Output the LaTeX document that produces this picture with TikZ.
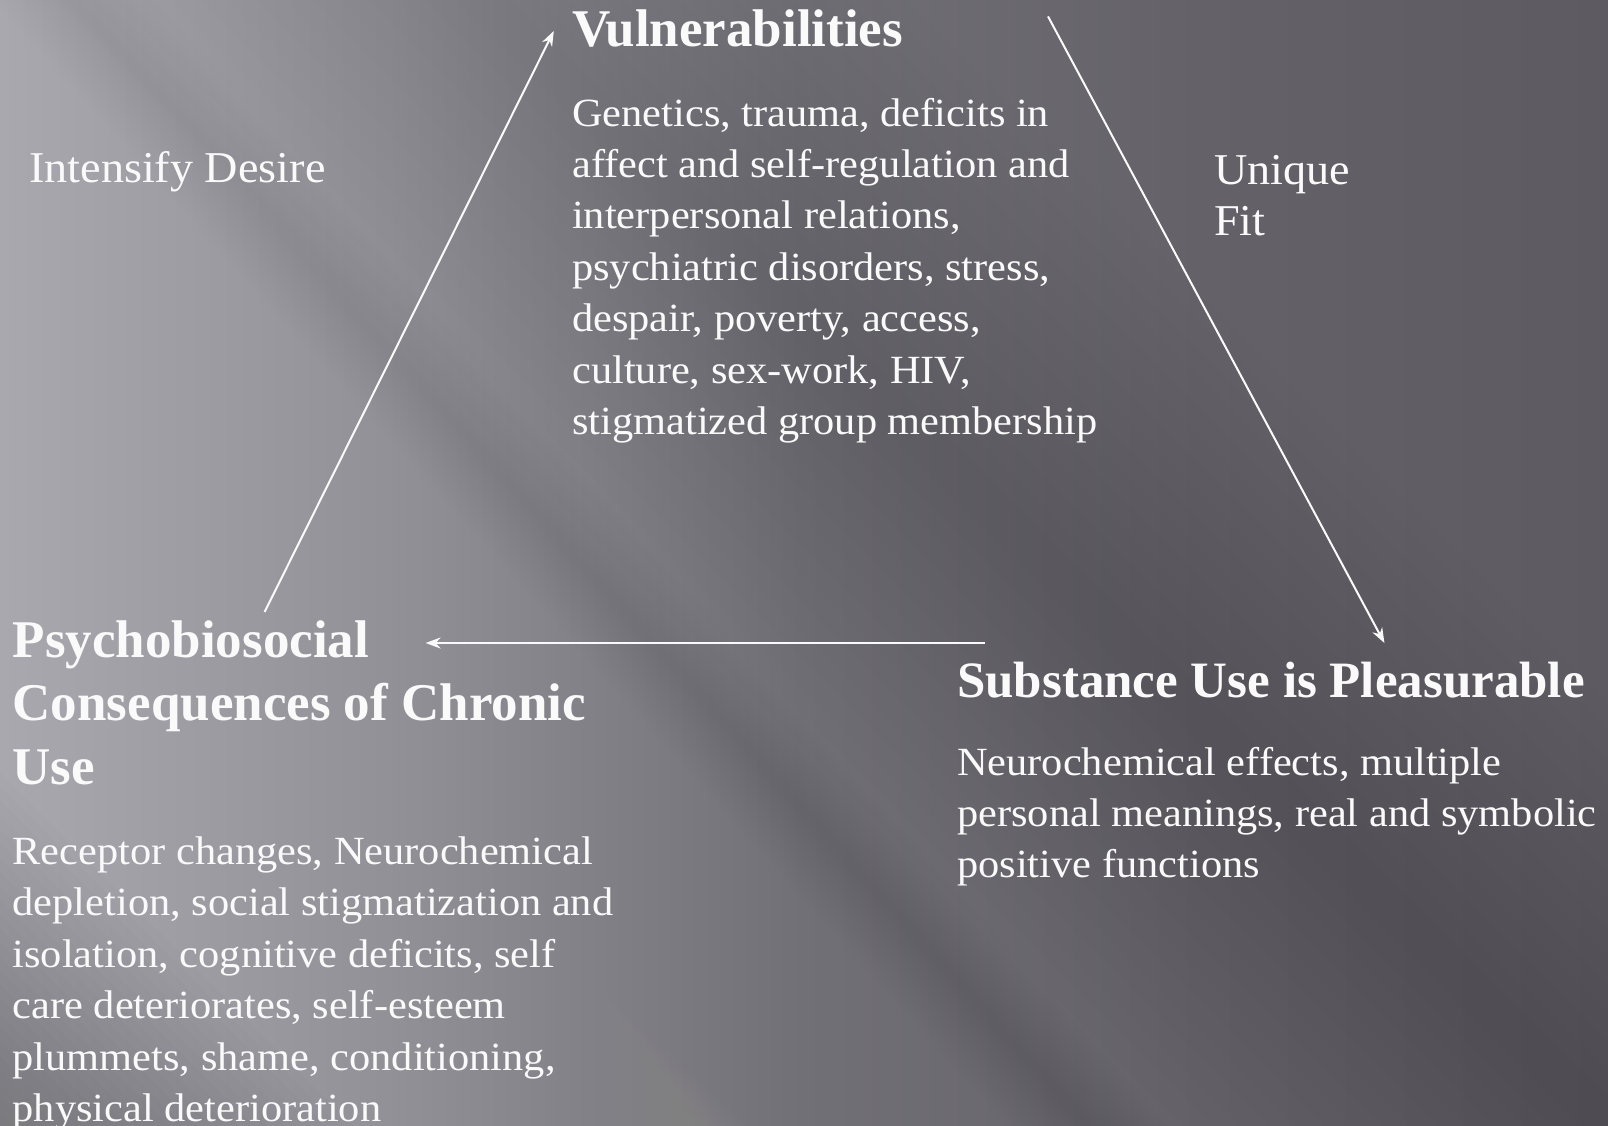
\documentclass[tikz,border=0pt]{standalone}
\usepackage{fontspec}
\setmainfont{Liberation Serif}
\newfontfamily\bodyfont[FakeStretch=1.06]{Liberation Serif}
\newfontfamily\labfont[FakeStretch=1.05]{Liberation Serif}
\usetikzlibrary{arrows.meta,calc}
\definecolor{bgA}{RGB}{170,168,175}
\definecolor{bgB}{RGB}{146,144,151}
\definecolor{bgC}{RGB}{114,112,119}
\definecolor{bgD}{RGB}{100,98,104}
\definecolor{bgE}{RGB}{93,91,97}
\definecolor{txt}{RGB}{250,250,250}
\tikzset{
  headtext/.style={anchor=base west, inner sep=0pt, align=left, text=txt, font=\bfseries\fontsize{53}{63.6}\selectfont},
  bodytext/.style={anchor=base west, inner sep=0pt, align=left, text=txt, font=\bodyfont\fontsize{40}{51.45}\selectfont},
  labeltext/.style={anchor=base west, inner sep=0pt, align=left, text=txt, font=\labfont\fontsize{44}{51}\selectfont},
  conn/.style={draw=txt, line width=2pt, -{Stealth[length=15pt,width=11pt]}},
}
\begin{document}
\begin{tikzpicture}[x=1pt,y=-1pt]
\useasboundingbox (0,0) rectangle (1608,1126);
% background: horizontal base gradient
\shade[left color=bgA, right color=bgB] (0,0) rectangle (401,1126);
\shade[left color=bgB, right color=bgC] (400,0) rectangle (801,1126);
\shade[left color=bgC, right color=bgD] (800,0) rectangle (1201,1126);
\shade[left color=bgD, right color=bgE] (1200,0) rectangle (1608,1126);
% soft diagonal light and dark streaks
\begin{scope}
\clip (0,0) rectangle (1608,1126);
\begin{scope}[shift={(150,330)}, rotate=-48]
\foreach \w in {10,20,...,250} \fill[white, opacity=0.003] (-2000,-\w) rectangle (2000,\w);
\end{scope}
\begin{scope}[shift={(380,340)}, rotate=-48]
\foreach \w in {5,10,...,60} \fill[black, opacity=0.005] (-2000,-\w) rectangle (2000,\w);
\end{scope}
\begin{scope}[shift={(200,740)}, rotate=-42]
\foreach \w in {5,10,...,80} \fill[white, opacity=0.006] (-2000,-\w) rectangle (2000,\w);
\end{scope}
\begin{scope}[shift={(0,1126)}, rotate=-45]
\foreach \w in {10,20,...,250} \fill[black, opacity=0.007] (-2000,-\w) rectangle (2000,\w);
\end{scope}
\begin{scope}[shift={(830,500)}, rotate=-45]
\foreach \w in {10,20,...,200} \fill[white, opacity=0.005] (-2000,-\w) rectangle (2000,\w);
\end{scope}
\begin{scope}[shift={(1608,1126)}, rotate=-45]
\foreach \w in {20,40,...,300} \fill[black, opacity=0.004] (-2000,-\w) rectangle (2000,\w);
\end{scope}
\end{scope}
% texts (multi-line nodes are anchored at the baseline of their last line)
\node[headtext] (vt) at (572,47) {Vulnerabilities};
\node[bodytext] (vb) at (572,434.7) {Genetics, trauma, deficits in\\affect and self-regulation and\\interpersonal relations,\\psychiatric disorders, stress,\\despair, poverty, access,\\culture, sex-work, HIV,\\stigmatized group membership};
\node[labeltext] (lid) at (29,183) {Intensify Desire};
\node[labeltext] (luf) at (1214,235) {Unique\\Fit};
\node[headtext] (pt) at (12.5,784.2) {Psychobiosocial\\Consequences of Chronic\\Use};
\node[bodytext] (pb) at (12.5,1121.7) {Receptor changes, Neurochemical\\depletion, social stigmatization and\\isolation, cognitive deficits, self\\care deteriorates, self-esteem\\plummets, shame, conditioning,\\physical deterioration};
\node[headtext, font=\bfseries\fontsize{51}{61}\selectfont] (st) at (957,697) {Substance Use is Pleasurable};
\node[bodytext] (sb) at (957,877.9) {Neurochemical effects, multiple\\personal meanings, real and symbolic\\positive functions};
% connectors
\coordinate (a1s) at (264.6,612);
\coordinate (a1e) at (553.8,31);
\coordinate (a2s) at (1048,16.4);
\coordinate (a2e) at (1384.4,643);
\coordinate (a3s) at (984.5,643);
\coordinate (a3e) at (425.6,643);
\draw[conn] (a1s) -- (a1e);
\draw[conn] (a2s) -- (a2e);
\draw[conn] (a3s) -- (a3e);
\end{tikzpicture}
\end{document}
